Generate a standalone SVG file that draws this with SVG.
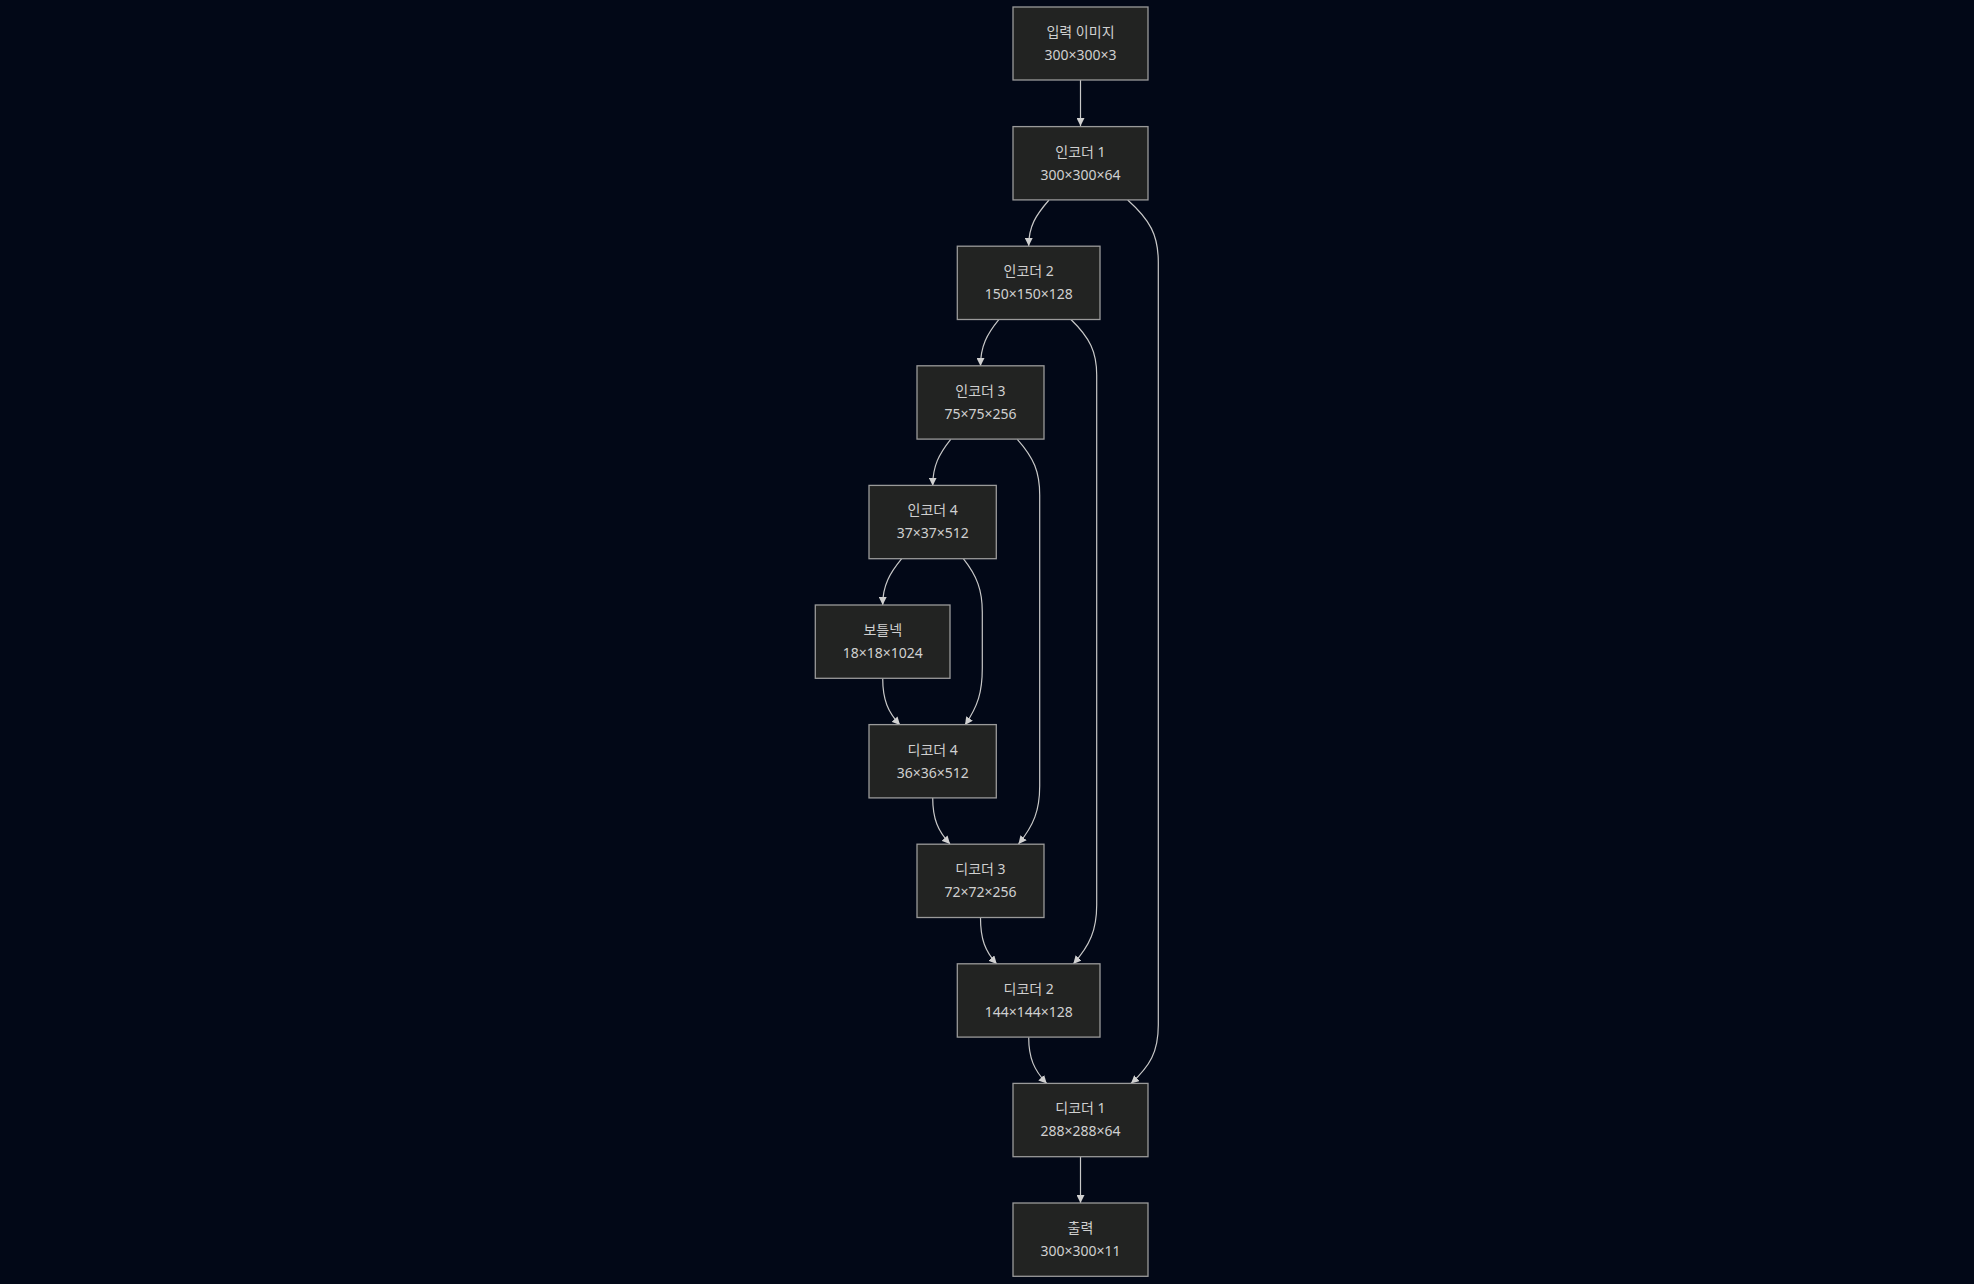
<svg xmlns="http://www.w3.org/2000/svg" width="1974" height="1284" viewBox="0 0 1974 1284">
<style>
.bg{fill:#020817}
.node rect{fill:#222322;stroke:#9a9a9a;stroke-width:1.3}
.node text{fill:#d0d0d0;font-family:"Noto Sans","Noto Sans CJK KR",sans-serif;font-size:14px;text-anchor:middle}
.edge{fill:none;stroke:#c8c8c8;stroke-width:1.2;marker-end:url(#arr)}
</style>
<defs>
<marker id="arr" viewBox="0 0 10 10" refX="10" refY="5" markerWidth="8" markerHeight="8" markerUnits="userSpaceOnUse" orient="auto">
<path d="M0,0 L10,5 L0,10 z" fill="#d0d0d0"/>
</marker>
</defs>
<rect class="bg" x="0" y="0" width="1974" height="1284"/>
<g id="connectors">
<path class="edge" d="M1080.5,80 L1080.5,126"/>
<path class="edge" d="M1049,200 C1036,215 1028.7,226 1028.7,246"/>
<path class="edge" d="M999,319.3 C987,334 980.5,346 980.5,366"/>
<path class="edge" d="M950.7,439.3 C939,454 932.7,466 932.7,485.7"/>
<path class="edge" d="M901.7,558.7 C890,573 882.7,585 882.7,605"/>
<path class="edge" d="M882.7,678.3 C882.7,700 888,712 900,725"/>
<path class="edge" d="M932.7,797.7 C932.7,819 938,831 950,844"/>
<path class="edge" d="M980.5,917.7 C980.5,939 985,951 996.7,964"/>
<path class="edge" d="M1028.7,1037.3 C1028.7,1058 1034,1070 1046.7,1083.5"/>
<path class="edge" d="M1080.5,1157 L1080.5,1203"/>
<path class="edge" d="M1127.7,200 C1150,220 1158.3,235 1158.3,262 L1158.3,1025 C1158.3,1052 1150,1066 1131,1083.5"/>
<path class="edge" d="M1070.7,319.3 C1090,338 1096.7,352 1096.7,375 L1096.7,905 C1096.7,930 1090,945 1073.3,964"/>
<path class="edge" d="M1017.3,439.3 C1034,458 1039.7,472 1039.7,495 L1039.7,786 C1039.7,810 1034,825 1018.5,844"/>
<path class="edge" d="M963.3,558.7 C977,576 982.3,590 982.3,612 L982.3,668 C982.3,692 978,706 965,725"/>
</g>
<g id="input" class="node"><rect x="1013" y="7" width="135" height="73"/><text x="1080.5" y="37">입력 이미지</text><text x="1080.5" y="60">300×300×3</text></g>
<g id="enc1" class="node"><rect x="1013" y="126.6" width="135" height="73.3"/><text x="1080.5" y="156.6">인코더 1</text><text x="1080.5" y="179.6">300×300×64</text></g>
<g id="enc2" class="node"><rect x="957.3" y="246.2" width="142.7" height="73.3"/><text x="1028.7" y="276.2">인코더 2</text><text x="1028.7" y="299.2">150×150×128</text></g>
<g id="enc3" class="node"><rect x="917" y="365.8" width="127" height="73.3"/><text x="980.5" y="395.8">인코더 3</text><text x="980.5" y="418.8">75×75×256</text></g>
<g id="enc4" class="node"><rect x="869" y="485.4" width="127.3" height="73.3"/><text x="932.7" y="515.4">인코더 4</text><text x="932.7" y="538.4">37×37×512</text></g>
<g id="bottleneck" class="node"><rect x="815.3" y="605" width="134.7" height="73.3"/><text x="882.7" y="635">보틀넥</text><text x="882.7" y="658">18×18×1024</text></g>
<g id="dec4" class="node"><rect x="869" y="724.6" width="127.3" height="73.3"/><text x="932.7" y="754.6">디코더 4</text><text x="932.7" y="777.6">36×36×512</text></g>
<g id="dec3" class="node"><rect x="917" y="844.2" width="127" height="73.3"/><text x="980.5" y="874.2">디코더 3</text><text x="980.5" y="897.2">72×72×256</text></g>
<g id="dec2" class="node"><rect x="957.3" y="963.8" width="142.7" height="73.3"/><text x="1028.7" y="993.8">디코더 2</text><text x="1028.7" y="1016.8">144×144×128</text></g>
<g id="dec1" class="node"><rect x="1013" y="1083.4" width="135" height="73.3"/><text x="1080.5" y="1113.4">디코더 1</text><text x="1080.5" y="1136.4">288×288×64</text></g>
<g id="output" class="node"><rect x="1013" y="1203" width="135" height="73.3"/><text x="1080.5" y="1233">출력</text><text x="1080.5" y="1256">300×300×11</text></g>
</svg>
